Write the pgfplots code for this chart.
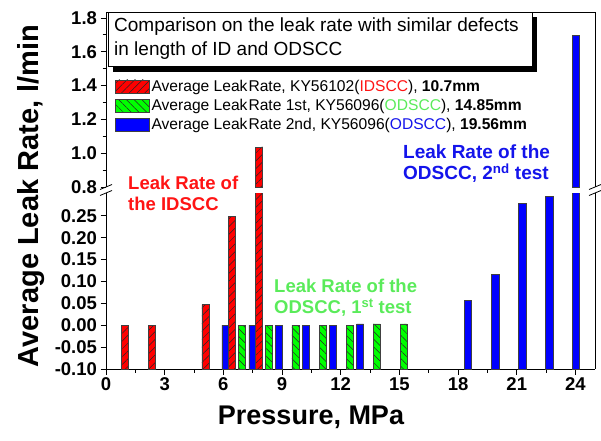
\documentclass[border=0pt]{standalone}
\usepackage{fontspec}
\setmainfont{Liberation Sans}
\usepackage{pgfplots}
\usepackage{pgfplotstable}
\pgfplotsset{compat=1.18}
\usetikzlibrary{patterns.meta}

\definecolor{barred}{RGB}{255,0,0}
\definecolor{bargreen}{RGB}{0,255,0}
\definecolor{barblue}{RGB}{0,0,255}
\definecolor{txtred}{RGB}{255,20,20}
\definecolor{txtgreen}{RGB}{90,235,90}
\definecolor{txtblue}{RGB}{20,20,235}

% IDSCC, 10.7 mm
\pgfplotstableread{
x y
0.95 0
2.33 0
5.08 0.047
6.44 0.249
7.83 1.038
}\idscc
% ODSCC 1st test, 14.85 mm
\pgfplotstableread{
x y
6.96 0
8.34 0
9.68 0
11.08 0
12.46 0
13.84 0.003
15.22 0.003
}\odsccA
% ODSCC 2nd test, 19.56 mm
\pgfplotstableread{
x y
6.10 0
7.48 0
8.85 0
10.23 0
11.60 0
12.99 0.003
18.50 0.056
19.90 0.117
21.28 0.278
22.66 0.295
24.02 1.700
}\odsccB

\tikzset{
  redbar/.style={fill=barred, draw=black!75, line width=0.5pt,
    postaction={pattern={Lines[angle=45,distance=5.5pt,line width=0.5pt]}, pattern color=black!85}},
  greenbar/.style={fill=bargreen, draw=black!75, line width=0.5pt,
    postaction={pattern={Lines[angle=-45,distance=5.5pt,line width=0.5pt]}, pattern color=black!85}},
  bluebar/.style={fill=barblue, draw=black!75, line width=0.5pt},
}
\pgfplotsset{
  brk/.style={
    scale only axis, width=489pt, xmin=0, xmax=25,
    anchor=south west,
    axis lines*=left,
    axis line style={line width=0.8pt, -},
    ybar, bar width=0.36, bar shift=0pt,
    tick style={line width=0.8pt, black},
    tick align=outside,
    major tick length=5.5pt, minor tick length=3.5pt,
    ticklabel style={font=\fontsize{18.5}{18.5}\selectfont\bfseries},
    /pgf/number format/assume math mode=true,
  },
  lgd/.style={legend image code/.code={\draw[##1] (0pt,-6.5pt) rectangle (34pt,6.5pt);}},
}

\begin{document}
\begin{tikzpicture}
\useasboundingbox (0,0) rectangle (601pt,440pt);
% lower panel
\begin{axis}[brk, at={(106pt,71pt)}, height=176pt,
  ymin=-0.1, ymax=0.302,
  y coord trafo/.code={\pgfmathparse{#1+0.1}},
  y coord inv trafo/.code={\pgfmathparse{#1-0.1}},
  ytick={-0.1,-0.05,0,0.05,0.1,0.15,0.2,0.25},
  yticklabels={-0.10,-0.05,0.00,0.05,0.10,0.15,0.20,0.25},
  minor y tick num=1,
  xtick={0,3,...,24}, minor x tick num=1,
]
\addplot[bluebar] table {\odsccB};
\addplot[greenbar] table {\odsccA};
\addplot[redbar] table {\idscc};
\end{axis}
% upper panel
\begin{axis}[brk, at={(106pt,253pt)}, height=175pt,
  ymin=0.8, ymax=1.8355,
  restrict y to domain=0.8:2,
  ytick={0.8,1.0,1.2,1.4,1.6,1.8},
  yticklabel style={/pgf/number format/.cd, fixed, fixed zerofill, precision=1},
  minor y tick num=1,
  xtick=\empty,
  x axis line style={draw=none},
  legend style={at={(0.012,0.635)}, anchor=north west, draw=none, fill=none,
    font=\fontsize{15.6}{16}\selectfont, row sep=2.3pt,
    nodes={inner sep=2pt}},
  legend cell align=left,
]
\addlegendimage{redbar, lgd}
\addlegendentry{Average Leak\kern1pt Rate, KY56102(\textcolor{txtred}{IDSCC}), \textbf{10.7mm}}
\addlegendimage{greenbar, lgd}
\addlegendentry{Average Leak\kern1pt Rate 1st, KY56096(\textcolor{txtgreen}{ODSCC}), \textbf{14.85mm}}
\addlegendimage{bluebar, lgd}
\addlegendentry{Average Leak\kern1pt Rate 2nd, KY56096(\textcolor{txtblue}{ODSCC}), \textbf{19.56mm}}
\addplot[bluebar, forget plot] table {\odsccB};
\addplot[redbar, forget plot] table {\idscc};
\end{axis}
% right spine, top line
\draw[line width=0.8pt] (595pt,71pt) -- (595pt,247pt);
\draw[line width=0.8pt] (595pt,253pt) -- (595pt,428pt) -- (106pt,428pt);
% break marks
\foreach \xx in {106,595}{
  \draw[line width=0.8pt] (\xx pt-6pt,244.5pt) -- (\xx pt+6pt,249.5pt);
  \draw[line width=0.8pt] (\xx pt-6pt,250.5pt) -- (\xx pt+6pt,255.5pt);
}
% title box with shadow
\fill[black] (113pt,368pt) rectangle (537pt,423pt);
\draw[fill=white, line width=0.8pt] (108pt,373.5pt) rectangle (532pt,428pt);
\node[anchor=west, align=left, font=\fontsize{19}{24}\selectfont, inner sep=0pt] at (114pt,401pt)
  {Comparison on the leak rate with similar defects\\in length of ID and ODSCC};
% annotations
\node[anchor=west, align=left, text=txtred, font=\fontsize{18.5}{21}\selectfont\bfseries, inner sep=0pt]
  at (128pt,246.5pt) {Leak Rate of\\the IDSCC};
\node[anchor=west, align=left, text=txtgreen, font=\fontsize{18.5}{21}\selectfont\bfseries, inner sep=0pt]
  at (274pt,142pt) {Leak Rate of the\\ODSCC, 1\textsuperscript{st} test};
\node[anchor=west, align=left, text=txtblue, font=\fontsize{19}{21}\selectfont\bfseries, inner sep=0pt]
  at (403pt,276pt) {Leak Rate of the\\ODSCC, 2\textsuperscript{nd} test};
% axis labels
\node[rotate=90, font=\fontsize{29}{29}\selectfont\bfseries] at (31pt,244pt) {Average Leak Rate, l/min};
\node[font=\fontsize{27}{27}\selectfont\bfseries] at (311pt,23pt) {Pressure, MPa};
\end{tikzpicture}
\end{document}
